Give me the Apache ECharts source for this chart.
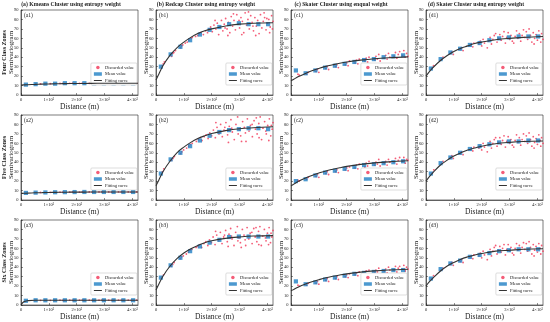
<!DOCTYPE html>
<html><head><meta charset="utf-8">
<script src="https://cdn.jsdelivr.net/npm/echarts@6/dist/echarts.min.js"></script>
<style>html,body{margin:0;padding:0;background:#fff}#c{width:550px;height:322px}</style>
</head><body><div id="c"></div>
<script>
const colTitles = ['(a) Kmeans Cluster using entropy weight','(b) Redcap Cluster using entropy weight','(c) Skater Cluster using enqual weight','(d) Skater Cluster using entropy weight'];
const rowTitles = ['Four Class Zones','Five Class Zones','Six Class Zones'];
const panelTags = ['(a1)','(b1)','(c1)','(d1)','(a2)','(b2)','(c2)','(d2)','(a3)','(b3)','(c3)','(d3)'];
const xTicks = ['0','1×10³','2×10³','3×10³','4×10³'];
const meanDist = [175,525,875,1225,1575,1925,2275,2625,2975,3325,3675,4025];
const curveX = [0,100,250,500,750,1000,1250,1500,1750,2000,2500,3000,3500,4200];

const meanA1 = [11,11.5,12,12,12.5,12.5,12.5,12.5,12.5,12.5,12.5,12.5];
const meanB1 = [30,43,51,58,64,69,72,75,76,75,75,75];
const meanC1 = [26,23,26,29,31,33,35,37,38,40,41,42];
const meanD1 = [28,38,45,49,53,55,58,60,61,62,62,62];
const meanA2 = [7.5,7.8,8,8.2,8.3,8.4,8.5,8.5,8.5,8.5,8.5,8.5];
const meanB2 = [28,43,50,57,63,68,72,74,75,76,76,75];
const meanC2 = [20,22,26,29,31,33,35,37,38,39,40,41];
const meanD2 = [28,39,45,50,54,57,59,61,62,62,63,63];
const meanA3 = [4.5,5,5,5,5,5,5,5,5,5,5,5];
const meanB3 = [29,42,50,57,62,66,69,72,72.5,72.5,72.5,72.5];
const meanC3 = [25,22,24,27,29,31,33,34,35,36,37,37];
const meanD3 = [28,38,44,47,51,53,55,57,58,59,59,59];

const curveA1 = [10.5,10.7,10.9,11.2,11.5,11.7,11.9,12,12.1,12.2,12.3,12.4,12.4,12.5];
const curveB1 = [16,22,31,42,50,56,61,65,68,70,73,75,76,76.5];
const curveC1 = [15,16.7,19.2,22.6,25.6,28.1,30.3,32,33.6,34.9,36.9,38.4,39.4,40.4];
const curveD1 = [20,24,29,36,41.5,46,49.5,52,54.5,56,58.5,60,61,62];
const curveA2 = [7,7.1,7.3,7.6,7.8,8,8.1,8.2,8.3,8.3,8.4,8.4,8.5,8.5];
const curveB2 = [15,21,30,41,50,56,61,65,68,70.5,73.5,75.5,76.5,77.5];
const curveC2 = [15,16.8,19.5,23,26,28.5,30.8,32.6,34.2,35.6,37.7,39.3,40.4,41.5];
const curveD2 = [20,24,29,36.5,42,46.5,50,53,55,57,59.5,61,62,62.5];
const curveA3 = [0,3.4,4.6,5,5,5.05,5.05,5.1,5.1,5.1,5.1,5.1,5.1,5.1];
const curveB3 = [16,22,30.5,41,49,55,59.5,63,66,68,70.5,72,73,73.5];
const curveC3 = [15,16.5,18.8,22,24.6,26.8,28.8,30.4,31.8,33,34.8,36.1,37,37.8];
const curveD3 = [20,24,28.5,35.5,41,45,48.5,51,53,54.5,57,58,59,59.5];

const discA1 = [[700,11.8],[1050,12],[1400,12.3],[1500,12.4],[1750,12.4],[1850,12.5],[2100,12.4],[2200,12.6],[2450,12.4],[2550,12.6],[2800,12.5],[2900,12.3],[3150,12.5],[3250,12.6],[3500,12.4],[3600,12.6],[3850,12.5],[3950,12.3],[4150,12.5]];
const discA2 = [[700,8],[1050,8.1],[1400,8.3],[1500,8.2],[1750,8.4],[1850,8.5],[2100,8.4],[2200,8.6],[2450,8.5],[2550,8.4],[2800,8.5],[2900,8.6],[3150,8.5],[3250,8.4],[3500,8.5],[3600,8.6],[3850,8.5],[3950,8.4],[4150,8.5]];
const discA3 = [[700,5],[1050,5],[1400,5.1],[1500,5],[1750,5.1],[1850,5],[2100,5.1],[2200,5.2],[2450,5.1],[2550,5],[2800,5.1],[2900,5.2],[3150,5.1],[3250,5],[3500,5.1],[3600,5.2],[3850,5.1],[3950,5],[4150,5.1]];

const discB1 = [[220,31],[260,33],[300,35],[560,41],[600,44],[640,45],[700,47],[880,50],[920,52],[960,53],[1050,55],[1120,56],[1180,58],[1260,60],[1300,61],[1420,62],[1500,63],[1560,65],[1620,66],[1700,64],[1780,68],[1850,66],[1900,70],[1960,72],[2020,67],[2080,74],[2150,70],[2200,76],[2250,64],[2300,72],[2350,79],[2400,68],[2450,75],[2500,81],[2550,70],[2600,77],[2650,66],[2700,83],[2750,73],[2800,79],[2850,69],[2900,85],[2950,75],[3000,71],[3050,82],[3100,78],[3150,66],[3200,87],[3250,74],[3300,80],[3350,70],[3400,84],[3450,77],[3500,68],[3550,82],[3600,73],[3650,79],[3700,65],[3750,85],[3800,71],[3850,78],[3900,82],[3950,69],[4000,76],[4050,80],[4100,72],[4150,84],[4200,78],[2120,79],[2580,63],[3080,64],[3580,63],[4080,66],[2780,86],[3320,88],[3880,87],[2480,71],[2980,79],[3480,73],[3980,81],[4180,70]];
const discB2 = [[230,30],[280,33],[560,42],[610,44],[660,46],[880,49],[930,51],[990,53],[1100,55],[1170,57],[1230,59],[1300,60],[1450,62],[1520,64],[1590,66],[1650,63],[1730,67],[1800,69],[1870,65],[1930,71],[2000,68],[2060,74],[2130,66],[2190,77],[2260,70],[2320,80],[2380,67],[2440,74],[2510,82],[2570,69],[2630,78],[2690,85],[2740,72],[2810,64],[2870,80],[2930,88],[2990,74],[3040,68],[3110,83],[3170,77],[3230,62],[3280,86],[3340,73],[3390,79],[3460,67],[3520,84],[3570,75],[3630,70],[3690,81],[3740,88],[3790,64],[3840,76],[3900,83],[3960,70],[4010,79],[4070,86],[4120,68],[4170,75],[4200,82],[2150,82],[2600,61],[3070,62],[3600,87],[4050,63],[2470,77],[2950,70],[3450,80],[3940,73],[2720,76],[3210,71],[3700,66],[4140,79]];
const discB3 = [[220,30],[270,32],[550,41],[600,43],[650,45],[870,49],[920,51],[980,52],[1090,54],[1160,56],[1220,58],[1290,59],[1440,61],[1510,62],[1580,64],[1640,61],[1720,65],[1790,67],[1860,63],[1920,69],[1990,66],[2050,72],[2120,64],[2180,74],[2250,68],[2310,77],[2370,65],[2430,72],[2500,79],[2560,67],[2620,75],[2680,81],[2730,70],[2800,63],[2860,77],[2920,83],[2980,71],[3030,66],[3100,80],[3160,74],[3220,63],[3270,82],[3330,70],[3380,76],[3450,65],[3510,81],[3560,72],[3620,67],[3680,78],[3730,83],[3780,63],[3830,73],[3890,80],[3950,68],[4000,76],[4060,82],[4110,66],[4160,72],[4200,79],[2140,78],[2590,62],[3060,61],[3590,82],[4040,64],[2460,74],[2940,68],[3440,77],[3930,71],[2710,73],[3200,69],[3690,64],[4130,76]];

const discC1 = [[250,22],[300,21],[560,22],[620,24],[900,25],[950,27],[1000,24],[1250,28],[1300,30],[1350,27],[1600,30],[1650,32],[1700,29],[1950,32],[2000,34],[2050,31],[2100,36],[2300,34],[2350,37],[2400,33],[2450,38],[2650,36],[2700,39],[2750,35],[2800,40],[3000,37],[3050,41],[3100,38],[3150,43],[3200,36],[3350,39],[3400,42],[3450,38],[3500,44],[3550,40],[3700,41],[3750,45],[3800,39],[3850,43],[3900,46],[4000,42],[4050,47],[4100,40],[4150,44],[4200,41]];
const discC2 = [[250,21],[300,20],[560,22],[620,24],[900,25],[950,27],[1000,24],[1250,28],[1300,30],[1350,27],[1600,30],[1650,32],[1700,29],[1950,32],[2000,34],[2050,31],[2100,35],[2300,34],[2350,37],[2400,33],[2450,38],[2650,35],[2700,39],[2750,36],[2800,41],[3000,37],[3050,40],[3100,38],[3150,43],[3200,36],[3350,39],[3400,41],[3450,37],[3500,43],[3550,40],[3700,40],[3750,44],[3800,38],[3850,42],[3900,45],[4000,41],[4050,45],[4100,39],[4150,43],[4200,42]];
const discC3 = [[250,21],[300,20],[560,21],[620,23],[900,23],[950,25],[1000,22],[1250,26],[1300,28],[1350,25],[1600,28],[1650,30],[1700,27],[1950,30],[2000,32],[2050,29],[2100,33],[2300,32],[2350,34],[2400,31],[2450,35],[2650,33],[2700,36],[2750,32],[2800,37],[3000,34],[3050,37],[3100,35],[3150,39],[3200,33],[3350,36],[3400,38],[3450,34],[3500,40],[3550,37],[3700,37],[3750,41],[3800,35],[3850,39],[3900,41],[4000,38],[4050,42],[4100,36],[4150,40],[4200,38]];

const discD1 = [[220,29],[270,31],[560,38],[610,40],[880,44],[930,46],[980,43],[1230,48],[1280,50],[1330,47],[1580,52],[1630,54],[1680,51],[1720,55],[1900,54],[1950,57],[2000,52],[2050,59],[2100,55],[2250,57],[2300,61],[2350,54],[2400,59],[2450,63],[2550,56],[2600,60],[2650,64],[2700,58],[2750,62],[2850,55],[2900,61],[2950,66],[3000,59],[3050,63],[3100,57],[3200,62],[3250,68],[3300,60],[3350,65],[3400,57],[3450,63],[3550,61],[3600,67],[3650,59],[3700,70],[3750,63],[3800,56],[3850,66],[3900,60],[3950,64],[4000,58],[4050,68],[4100,62],[4150,65],[4200,59],[2200,50],[2800,67],[3150,55],[3500,69],[3880,54],[4120,56],[2500,65]];
const discD2 = [[230,29],[280,32],[560,39],[610,41],[880,45],[930,47],[980,44],[1230,49],[1280,51],[1330,48],[1580,53],[1630,55],[1680,52],[1720,56],[1900,55],[1950,58],[2000,53],[2050,60],[2100,56],[2250,58],[2300,62],[2350,55],[2400,60],[2450,64],[2550,57],[2600,61],[2650,66],[2700,59],[2750,63],[2850,56],[2900,62],[2950,67],[3000,60],[3050,64],[3100,58],[3200,63],[3250,69],[3300,61],[3350,66],[3400,58],[3450,64],[3550,62],[3600,68],[3650,60],[3700,71],[3750,64],[3800,57],[3850,67],[3900,61],[3950,65],[4000,59],[4050,69],[4100,63],[4150,66],[4200,60],[2200,51],[2800,68],[3150,56],[3500,70],[3880,55],[4120,57],[2500,66]];
const discD3 = [[220,28],[270,31],[560,37],[610,39],[880,43],[930,45],[980,42],[1230,46],[1280,48],[1330,45],[1580,50],[1630,52],[1680,49],[1720,53],[1900,52],[1950,55],[2000,50],[2050,57],[2100,53],[2250,55],[2300,59],[2350,52],[2400,57],[2450,61],[2550,54],[2600,58],[2650,62],[2700,56],[2750,60],[2850,53],[2900,59],[2950,64],[3000,57],[3050,61],[3100,55],[3200,60],[3250,65],[3300,58],[3350,63],[3400,55],[3450,61],[3550,59],[3600,65],[3650,57],[3700,67],[3750,61],[3800,54],[3850,64],[3900,58],[3950,62],[4000,56],[4050,65],[4100,60],[4150,63],[4200,57],[2200,48],[2800,64],[3150,53],[3500,66],[3880,52],[4120,54],[2500,63]];

const panels = [
  [meanA1,curveA1,discA1],[meanB1,curveB1,discB1],[meanC1,curveC1,discC1],[meanD1,curveD1,discD1],
  [meanA2,curveA2,discA2],[meanB2,curveB2,discB2],[meanC2,curveC2,discC2],[meanD2,curveD2,discD2],
  [meanA3,curveA3,discA3],[meanB3,curveB3,discB3],[meanC3,curveC3,discC3],[meanD3,curveD3,discD3]
];

const FONT = '"Liberation Serif","DejaVu Serif",serif';
const L0 = 21, T0 = 10, DX = 135, DY = 105, W = 117, H = 85;
const grid = [], xAxis = [], yAxis = [], series = [], legend = [], graphic = [];
const axLine = {show:true, lineStyle:{color:'#222', width:0.6}};
const tick = {show:true, inside:true, length:2, lineStyle:{color:'#222', width:0.5}};
for (let i = 0; i < 12; i++) {
  const r = Math.floor(i / 4), c = i % 4;
  const left = L0 + DX * c, top = T0 + DY * r;
  grid.push({left, top, width: W, height: H, show:true, borderColor:'#222', borderWidth:0.6, backgroundColor:'#fff'});
  xAxis.push({type:'value', gridIndex:i, min:0, max:4200, interval:1000, axisLine:axLine, axisTick:tick, splitLine:{show:false},
    axisLabel:{fontSize:4.5, margin:2.5, color:'#222', fontFamily:FONT, showMaxLabel:false,
      formatter: v => (v % 1000 === 0 && v/1000 < xTicks.length) ? xTicks[v/1000] : ''}});
  yAxis.push({type:'value', gridIndex:i, min:0, max:90, interval:10, axisLine:axLine, axisTick:tick, splitLine:{show:false},
    axisLabel:{fontSize:4.5, margin:2.5, color:'#222', fontFamily:FONT}});
  const [mean, curve, disc] = panels[i];
  series.push({name:'Discarded value', type:'scatter', xAxisIndex:i, yAxisIndex:i, data:disc, symbolSize:1.8,
    itemStyle:{color:'#f2405f', opacity:0.85}, z:2, silent:true});
  series.push({name:'Mean value', type:'scatter', xAxisIndex:i, yAxisIndex:i, symbol:'rect', symbolSize:4.2,
    data: meanDist.map((d, k) => [d, mean[k]]), itemStyle:{color:'#1f80c4'}, z:3, silent:true});
  series.push({name:'Fitting curve', type:'line', xAxisIndex:i, yAxisIndex:i, symbol:'none', smooth:0.4,
    data: curveX.map((d, k) => [d, curve[k]]), lineStyle:{color:'#333', width:1.1}, itemStyle:{color:'#333'}, z:4, silent:true});
  legend.push({orient:'vertical', right: 550 - (left + W) + 1, top: top + 53, itemWidth:8, itemHeight:3.5, itemGap:1.5,
    padding:[2,3], backgroundColor:'#fff', borderColor:'#bbb', borderWidth:0.5, borderRadius:1,
    textStyle:{fontSize:4.5, fontFamily:FONT, color:'#222', padding:[0,0,0,-2]}, selectedMode:false,
    data:[{name:'Discarded value', icon:'circle'},{name:'Mean value', icon:'rect'},{name:'Fitting curve', icon:'path://M0,0H16V2H0Z'}]});
  graphic.push({type:'text', left: left + 3, top: top + 3, style:{text: panelTags[i], font:'5.5px ' + FONT, fill:'#222'}});
  graphic.push({type:'text', x: left - 10, y: top + H/2, rotation: Math.PI/2,
    style:{text:'Semivariogram', font:'7px ' + FONT, fill:'#222', textAlign:'center', textVerticalAlign:'middle'}});
  graphic.push({type:'text', x: left + W/2, y: top + H + 12, style:{text:'Distance (m)', font:'7.5px ' + FONT, fill:'#222', textAlign:'center', textVerticalAlign:'middle'}});
  if (r === 0) graphic.push({type:'text', x: 71 + DX * c, y: 5, style:{text: colTitles[c], font:'bold 5.7px ' + FONT, fill:'#222', textAlign:'center', textVerticalAlign:'middle'}});
  if (c === 0) graphic.push({type:'text', x: 4, y: top + H/2, rotation: Math.PI/2, style:{text: rowTitles[r], font:'bold 6px ' + FONT, fill:'#222', textAlign:'center', textVerticalAlign:'middle'}});
}
const chart = echarts.init(document.getElementById('c'), null, {renderer:'canvas'});
chart.setOption({animation:false, backgroundColor:'#fff', grid, xAxis, yAxis, series, legend, graphic});
</script></body></html>
